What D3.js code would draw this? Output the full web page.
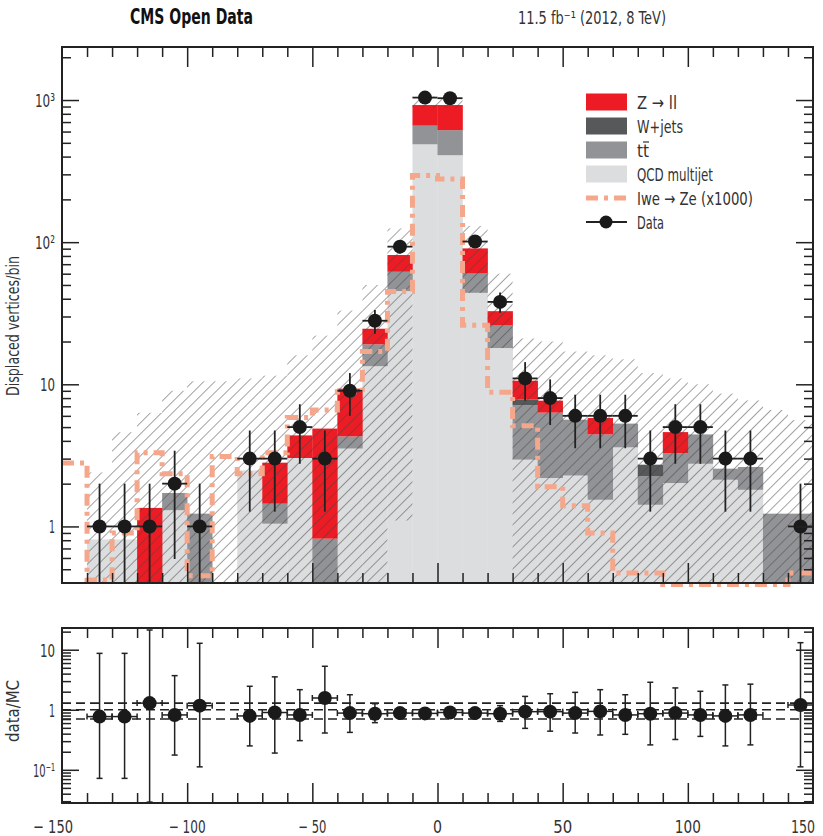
<!DOCTYPE html>
<html>
<head>
<meta charset="utf-8">
<script src="https://cdn.jsdelivr.net/npm/d3@7"></script>
<style>
  body { margin: 0; background: #fff; }
  text { font-family: "Liberation Sans Narrow", "DejaVu Sans Condensed", "Roboto Condensed", sans-serif; }
</style>
</head>
<body>
<svg id="chart" width="823" height="836"></svg>
<script>
(function() {

    // bin edges (10 units wide)
    var binEdges = [-150,-140,-130,-120,-110,-100,-90,-80,-70,-60,-50,-40,-30,-20,-10,0,10,20,30,40,50,60,70,80,90,100,110,120,130,140,150];

    // stacked MC, one value per bin
    var qcd   = [0, 0.81, 0.81, 0, 1.30, 0, 0, 2.48, 1.045, 3.03, 0, 3.53, 13.4, 45.3, 488, 409, 44, 18.0, 2.95, 2.19, 2.28, 1.54, 3.60, 1.42, 2.02, 2.76, 2.13, 1.81, 0, 0];
    var ttbar = [0, 0, 0, 0, 0.42, 1.23, 0, 0, 0.40, 0, 0.82, 0.77, 5.7, 16.6, 172, 205, 16.1, 7.9, 4.16, 4.13, 3.36, 2.9, 1.69, 0.84, 1.26, 1.68, 0.42, 0.81, 1.23, 1.23];
    var wjets = [0, 0, 0, 0, 0, 0, 0, 0, 0, 0, 0, 0, 0, 0, 0, 0, 0, 0, 0.73, 0, 0, 0, 0, 0.46, 0, 0, 0, 0, 0, 0];
    var zll   = [0, 0, 0, 1.35, 0, 0, 0, 0, 1.365, 1.34, 4.06, 5.02, 5.5, 19.3, 262, 308, 30.3, 6.8, 2.76, 1.35, 0, 1.35, 0, 0, 1.33, 0, 0, 0, 0, 0];

    // MC uncertainty band (hatched), low / high per bin
    var bandLo = [null, 0.4, 0.4, 0.4, 0.4, 0.4, 0.4, 0.4, 0.4, 0.4, 0.4, 0.4, 0.4, 1.1, 880, 880, 44, 18, 0.4, 0.4, 0.4, 0.4, 0.4, 0.4, 0.4, 0.4, 0.4, 0.4, 0.4, 0.4];
    var bandHi = [null, 2.4, 4.6, 6.3, 9, 10.5, 10.5, 11, 11.5, 16, 22, 33, 50, 125, 1060, 1060, 130, 60, 21, 20, 17, 16, 15, 12, 11, 10, 8.6, 7.7, 6.6, 5.6];

    // signal Iwe -> Ze (x1000)
    var signal = [2.8, 0.42, 0.9, 3.3, 2.35, 0.45, 3.1, 2.35, 3.3, 5.85, 6.6, 8.85, 17, 45, 295, 278, 26, 8.8, 5.1, 1.9, 1.4, 0.9, 0.47, 0.47, 0.39, 0.39, 0.39, 0.39, 0.39, 0.47];

    // data counts and errors (0 = no point)
    var dataN   = [0, 1, 1, 1, 2, 1, 0, 3, 3, 5, 3, 9, 28, 93, 1040, 1030, 101, 38, 11, 8, 6, 6, 6, 3, 5, 5, 3, 3, 0, 1];
    var dataErr = [0, 1, 1, 1, 1.41, 1, 0, 1.73, 1.73, 2.24, 1.73, 3, 5.29, 9.64, 32.2, 32.1, 10.05, 6.16, 3.32, 2.83, 2.45, 2.45, 2.45, 1.73, 2.24, 2.24, 1.73, 1.73, 0, 1];

    // ratio panel data/MC
    var ratio   = [null, 0.77, 0.77, 1.29, 0.82, 1.17, null, 0.79, 0.90, 0.82, 1.57, 0.88, 0.86, 0.88, 0.87, 0.90, 0.88, 0.86, 0.93, 0.93, 0.88, 0.94, 0.82, 0.86, 0.88, 0.82, 0.79, 0.82, null, 1.2];
    var ratioHi = [null, 8.7, 8.7, 21.3, 3.7, 12.8, null, 2.46, 3.53, 2.16, 5.3, 1.78, 1.26, 1.05, 0.92, 0.95, 1.0, 1.17, 1.67, 1.85, 1.95, 2.16, 1.78, 2.87, 2.31, 2.03, 2.59, 2.67, null, 13.1];
    var ratioLo = [null, 0.072, 0.072, 0.029, 0.176, 0.112, null, 0.25, 0.19, 0.306, 0.41, 0.42, 0.61, 0.74, 0.83, 0.86, 0.78, 0.64, 0.49, 0.44, 0.41, 0.38, 0.39, 0.26, 0.32, 0.36, 0.25, 0.26, null, 0.112];
    var ratioRef = [0.70, 1.0, 1.29];

    var xTickLabels = [-150, -100, -50, 0, 50, 100, 150];
    var yTickLabels = [1, 10, 100, 1000];
    var rTickLabels = [0.1, 1, 10];
    var powText = { "-1": "10\u207B\u00B9", "0": "1", "1": "10", "2": "10\u00B2", "3": "10\u00B3" };
    var powWidth = { "-1": 22, "0": 6, "1": 15, "2": 20, "3": 20 };

    var legendNames = ["Z \u2192 ll", "W+jets", "tt", "QCD multijet", "Iwe \u2192 Ze (x1000)", "Data"];

    var colors = { qcd: "#dcdddf", tt: "#929396", w: "#57585a", z: "#ed1c24", sig: "#f5a78c", data: "#1a1a1a" };

    var L = 62, R = 813, T = 47, B = 583, RT = 628, RB = 803;
    var yMin = 0.4;

    var svg = d3.select("#chart");
    var x = d3.scaleLinear().domain([-150, 150]).range([L, R]);
    var y = d3.scaleLog().domain([yMin, 2361]).range([B, T]);
    var yr = d3.scaleLog().domain([0.028, 23]).range([RB, RT]);

    var bins = d3.range(binEdges.length - 1).map(function(i) {
        return { i: i, lo: binEdges[i], hi: binEdges[i + 1] };
    });

    // text fitted to the width it has in the reference (the original font is a condensed one)
    function label(parent, px, py, str, size, width, opts) {
        opts = opts || {};
        var t = parent.append("text").attr("x", px).attr("y", py)
            .attr("font-size", size).attr("fill", opts.fill || "#333")
            .attr("text-anchor", opts.anchor || "start").text(str);
        if (opts.bold) t.attr("font-weight", "bold");
        if (opts.rotate) t.attr("transform", "rotate(" + opts.rotate + "," + px + "," + py + ")");
        if (width) t.attr("textLength", width).attr("lengthAdjust", "spacingAndGlyphs");
        return t;
    }

    svg.append("defs").append("clipPath").attr("id", "mainclip")
        .append("rect").attr("x", L).attr("y", T).attr("width", R - L).attr("height", B - T + 4);
    var hatch = svg.select("defs").append("pattern").attr("id", "hatch")
        .attr("width", 7.8).attr("height", 7.8).attr("patternUnits", "userSpaceOnUse")
        .attr("patternTransform", "rotate(45)");
    hatch.append("line").attr("x1", 0).attr("y1", 0).attr("x2", 0).attr("y2", 7.8)
        .attr("stroke", "#444").attr("stroke-width", 1);

    var main = svg.append("g").attr("clip-path", "url(#mainclip)");

    // stacked histogram: qcd, ttbar, wjets, zll
    var layers = [[qcd, colors.qcd], [ttbar, colors.tt], [wjets, colors.w], [zll, colors.z]];
    var base = bins.map(function() { return 0; });
    layers.forEach(function(layer) {
        var vals = layer[0];
        var segs = bins.map(function(b) {
            var lo = base[b.i], hi = base[b.i] + vals[b.i];
            base[b.i] = hi;
            return { b: b, lo: lo, hi: hi };
        }).filter(function(s) { return s.hi > s.lo && s.hi > yMin; });
        main.append("g").selectAll("rect").data(segs).join("rect")
            .attr("x", function(s) { return x(s.b.lo); })
            .attr("width", function(s) { return x(s.b.hi) - x(s.b.lo) + 0.3; })
            .attr("y", function(s) { return y(s.hi); })
            .attr("height", function(s) { return y(Math.max(s.lo, yMin)) - y(s.hi); })
            .attr("fill", layer[1]);
    });

    // hatched uncertainty band
    main.append("g").selectAll("rect").data(bins.filter(function(b) { return bandHi[b.i] != null; })).join("rect")
        .attr("x", function(b) { return x(b.lo); })
        .attr("width", function(b) { return x(b.hi) - x(b.lo); })
        .attr("y", function(b) { return y(bandHi[b.i]); })
        .attr("height", function(b) { return y(Math.max(bandLo[b.i], yMin)) - y(bandHi[b.i]); })
        .attr("fill", "url(#hatch)");

    // signal step line
    var sigPts = [];
    bins.forEach(function(b) { sigPts.push([b.lo, signal[b.i]]); sigPts.push([b.hi, signal[b.i]]); });
    main.append("path")
        .attr("d", d3.line().x(function(d) { return x(d[0]); }).y(function(d) { return y(d[1]); })(sigPts))
        .attr("fill", "none").attr("stroke", colors.sig).attr("stroke-width", 5)
        .attr("stroke-dasharray", "12,6,4,6");

    // data points
    var dpts = bins.filter(function(b) { return dataN[b.i] > 0; });
    var dg = svg.append("g").attr("stroke", "#222").attr("stroke-width", 1.8);
    dg.selectAll("line.h").data(dpts).join("line").attr("class", "h")
        .attr("x1", function(b) { return x(b.lo); }).attr("x2", function(b) { return x(b.hi); })
        .attr("y1", function(b) { return y(dataN[b.i]); }).attr("y2", function(b) { return y(dataN[b.i]); });
    dg.selectAll("line.v").data(dpts).join("line").attr("class", "v")
        .attr("x1", function(b) { return x((b.lo + b.hi) / 2); }).attr("x2", function(b) { return x((b.lo + b.hi) / 2); })
        .attr("y1", function(b) { return y(dataN[b.i] + dataErr[b.i]); })
        .attr("y2", function(b) { return y(Math.max(dataN[b.i] - dataErr[b.i], yMin)); });
    svg.append("g").selectAll("circle").data(dpts).join("circle")
        .attr("cx", function(b) { return x((b.lo + b.hi) / 2); })
        .attr("cy", function(b) { return y(dataN[b.i]); })
        .attr("r", 7).attr("fill", colors.data);

    // ratio panel
    var rg = svg.append("g");
    rg.selectAll("line.ref").data(ratioRef).join("line").attr("class", "ref")
        .attr("x1", L).attr("x2", R)
        .attr("y1", function(d) { return yr(d); }).attr("y2", function(d) { return yr(d); })
        .attr("stroke", "#222").attr("stroke-width", 1.6).attr("stroke-dasharray", "9,5");
    var rpts = bins.filter(function(b) { return ratio[b.i] != null; });
    var rl = rg.append("g").attr("stroke", "#222").attr("stroke-width", 1.5);
    rpts.forEach(function(b) {
        var cx = x((b.lo + b.hi) / 2), cy = yr(ratio[b.i]);
        var yh = yr(ratioHi[b.i]), yl = yr(ratioLo[b.i]);
        rl.append("line").attr("x1", x(b.lo)).attr("x2", x(b.hi)).attr("y1", cy).attr("y2", cy);
        rl.append("line").attr("x1", x(b.lo)).attr("x2", x(b.lo)).attr("y1", cy - 3).attr("y2", cy + 3);
        rl.append("line").attr("x1", x(b.hi)).attr("x2", x(b.hi)).attr("y1", cy - 3).attr("y2", cy + 3);
        rl.append("line").attr("x1", cx).attr("x2", cx).attr("y1", yh).attr("y2", yl);
        rl.append("line").attr("x1", cx - 3).attr("x2", cx + 3).attr("y1", yh).attr("y2", yh);
        rl.append("line").attr("x1", cx - 3).attr("x2", cx + 3).attr("y1", yl).attr("y2", yl);
    });
    rg.selectAll("circle").data(rpts).join("circle")
        .attr("cx", function(b) { return x((b.lo + b.hi) / 2); })
        .attr("cy", function(b) { return yr(ratio[b.i]); })
        .attr("r", 7).attr("fill", colors.data);

    // frames
    [[T, B], [RT, RB]].forEach(function(p) {
        svg.append("rect").attr("x", L).attr("y", p[0]).attr("width", R - L).attr("height", p[1] - p[0])
            .attr("fill", "none").attr("stroke", "#222").attr("stroke-width", 2);
    });

    // axes ticks (major every 50, minor every 10)
    var xMinor = d3.range(-140, 150, 10).filter(function(d) { return d % 50 !== 0; });
    var xMajor = [-100, -50, 0, 50, 100];
    function ticks(axis, vals, size, tr) {
        var g = svg.append("g").attr("transform", tr)
            .call(axis.tickValues(vals).tickSize(size).tickFormat(""));
        g.select(".domain").remove();
        g.selectAll("line").attr("stroke", "#222").attr("stroke-width", 1.5);
        return g;
    }
    [[B, T], [RB, RT]].forEach(function(p) {
        ticks(d3.axisBottom(x), xMinor, -10, "translate(0," + p[0] + ")");
        ticks(d3.axisBottom(x), xMajor, -20, "translate(0," + p[0] + ")");
        ticks(d3.axisTop(x), xMinor, -10, "translate(0," + p[1] + ")");
        ticks(d3.axisTop(x), xMajor, -20, "translate(0," + p[1] + ")");
    });

    // log y ticks
    function logMinor(lo, hi) {
        var out = [];
        for (var e = -3; e <= 4; e++) for (var m = 2; m <= 9; m++) {
            var v = m * Math.pow(10, e);
            if (v > lo && v < hi) out.push(v);
        }
        return out;
    }
    var yMinor = logMinor(yMin, 2361), rMinor = logMinor(0.028, 23);
    ticks(d3.axisLeft(y), yMinor, -9, "translate(" + L + ",0)");
    ticks(d3.axisLeft(y), yTickLabels, -17, "translate(" + L + ",0)");
    ticks(d3.axisRight(y), yMinor, -9, "translate(" + R + ",0)");
    ticks(d3.axisRight(y), yTickLabels, -17, "translate(" + R + ",0)");
    ticks(d3.axisLeft(yr), rMinor, -9, "translate(" + L + ",0)");
    ticks(d3.axisLeft(yr), rTickLabels, -17, "translate(" + L + ",0)");
    ticks(d3.axisRight(yr), rMinor, -9, "translate(" + R + ",0)");
    ticks(d3.axisRight(yr), rTickLabels, -17, "translate(" + R + ",0)");

    // x tick labels, widths as in the reference
    var xLabW = [40, 37, 28, 9, 19, 26, 24];
    var lab = svg.append("g");
    xTickLabels.forEach(function(d, i) {
        var str = d < 0 ? "\u2212 " + (-d) : String(d);
        var px = x(d), anchor = "middle";
        if (i === 0) px = 53;
        if (i === xTickLabels.length - 1) { px = 815; anchor = "end"; }
        label(lab, px, 833, str, 18, xLabW[i], { anchor: anchor });
    });

    // y tick labels: 1, 10, 10^n
    function powLabel(v, py) {
        var e = String(Math.round(Math.log10(v)));
        label(lab, 55, py, powText[e], 18, powWidth[e], { anchor: "end" });
    }
    yTickLabels.forEach(function(v) { powLabel(v, y(v) + 7); });
    rTickLabels.forEach(function(v) { powLabel(v, yr(v) + 7); });

    // axis titles
    label(svg, 19, 326, "Displaced vertices/bin", 17, 140, { anchor: "middle", rotate: -90 });
    label(svg, 19, 711, "data/MC", 17, 62, { anchor: "middle", rotate: -90 });

    // header
    label(svg, 130, 24, "CMS Open Data", 21, 123, { bold: true, fill: "#111" });
    label(svg, 518, 24, "11.5 fb\u207B\u00B9 (2012, 8 TeV)", 17, 148);

    // legend
    var legY = [102, 126, 150, 174, 198, 222];
    var legW = [40, 46, 12, 76, 116, 27];
    var lg = svg.append("g");
    var boxCols = [colors.z, colors.w, colors.tt, colors.qcd];
    boxCols.forEach(function(c, i) {
        lg.append("rect").attr("x", 586).attr("y", legY[i] - 8.5).attr("width", 41).attr("height", 17).attr("fill", c);
    });
    lg.append("line").attr("x1", 586).attr("x2", 627).attr("y1", legY[4]).attr("y2", legY[4])
        .attr("stroke", colors.sig).attr("stroke-width", 5).attr("stroke-dasharray", "12,6,4,6");
    lg.append("line").attr("x1", 586).attr("x2", 627).attr("y1", legY[5]).attr("y2", legY[5])
        .attr("stroke", "#222").attr("stroke-width", 1.8);
    lg.append("circle").attr("cx", 606).attr("cy", legY[5]).attr("r", 6.5).attr("fill", colors.data);
    legendNames.forEach(function(n, i) {
        label(lg, 637, legY[i] + 7, n, 18, legW[i]);
        if (n === "tt") {
            lg.append("line").attr("x1", 643).attr("x2", 649).attr("y1", legY[i] - 8).attr("y2", legY[i] - 8)
                .attr("stroke", "#333").attr("stroke-width", 1.2);
        }
    });
})();
</script>
</body>
</html>
